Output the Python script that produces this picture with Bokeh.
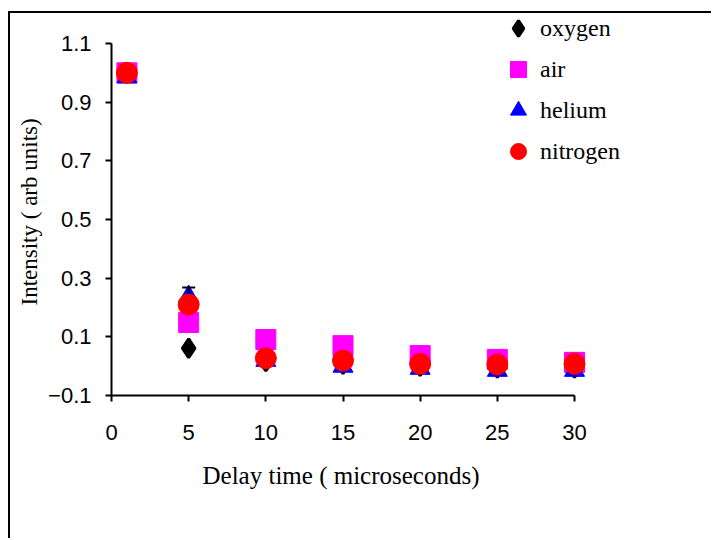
import numpy as np
import pandas as pd
from bokeh.plotting import figure
from bokeh.models import (FixedTicker, Legend, LegendItem, Range1d, ColumnDataSource,
                          Title)
from bokeh.embed import file_html
from bokeh.resources import INLINE

delay = [1, 5, 10, 15, 20, 25, 30]
oxygen = [1.0, 0.061, 0.016, 0.007, 0.0, -0.006, -0.006]
air = [1.0, 0.149, 0.091, 0.070, 0.036, 0.023, 0.013]
helium = [0.985, 0.237, 0.019, -0.001, -0.008, -0.015, -0.015]
nitrogen = [1.0, 0.21, 0.027, 0.019, 0.008, 0.006, 0.008]
helium_err = [0, 0.031, 0, 0, 0, 0, 0]
x_ticks = [0, 5, 10, 15, 20, 25, 30]
y_ticks = [-0.1, 0.1, 0.3, 0.5, 0.7, 0.9, 1.1]
series_names = ["oxygen", "air", "helium", "nitrogen"]
x_label = "Delay time ( microseconds)"
y_label = "Intensity ( arb units)"

# axes occupy 463 x 352 px; the frame is extended right/up so the legend is not clipped
AX_W, AX_H = 463, 352
FW, FH = 602, 382
x0, x1 = x_ticks[0], x_ticks[-1]
y0, y1 = y_ticks[0], y_ticks[-1]
x_end = x0 + (x1 - x0) * FW / AX_W
y_end = y0 + (y1 - y0) * FH / AX_H

p = figure(width=703, height=527, output_backend="svg", toolbar_location=None,
           x_range=Range1d(x0, x_end), y_range=Range1d(y0, y_end),
           min_border_left=101, min_border_right=0, min_border_top=0,
           min_border_bottom=145,
           styles={"border-left": "2px solid black", "border-top": "2px solid black",
                   "margin-left": "8px", "margin-top": "11px"})
p.outline_line_color = None
p.grid.visible = False

for ax, ticks in ((p.xaxis[0], x_ticks), (p.yaxis[0], y_ticks)):
    ax.ticker = FixedTicker(ticks=ticks)
    ax.bounds = (ticks[0], ticks[-1])
    ax.minor_tick_line_color = None
    ax.major_tick_in = 0
    ax.major_tick_out = 6
    ax.axis_line_width = 2
    ax.major_tick_line_width = 2
    ax.axis_line_color = "black"
    ax.major_tick_line_color = "black"
    ax.major_label_text_font = "Liberation Sans"
    ax.major_label_text_font_size = "22px"
    ax.major_label_text_color = "black"

p.xaxis.major_label_standoff = 23
p.yaxis.major_label_standoff = 14

# axis titles placed along the axes' extent (not the extended frame)
p.add_layout(Title(text=x_label, align="left", offset=91, standoff=34,
                   text_font="Liberation Serif", text_font_size="25px",
                   text_font_style="normal", text_color="black"), "below")
p.add_layout(Title(text=y_label, align="left", offset=90, standoff=8,
                   text_font="Liberation Serif", text_font_size="23px",
                   text_font_style="normal", text_color="black"), "left")

src = ColumnDataSource(dict(x=delay, oxygen=oxygen, air=air, helium=helium, nitrogen=nitrogen))

r_oxy = p.scatter("x", "oxygen", source=src, marker="diamond", size=19,
                  fill_color="black", line_color="black", line_width=3)
r_air = p.scatter("x", "air", source=src, marker="square", size=20,
                  fill_color="#FF00FF", line_color="#FF00FF")
r_he = p.scatter("x", "helium", source=src, marker="triangle", size=20,
                 fill_color="#0000FF", line_color="#0000FF")

df = pd.DataFrame(dict(x=delay, y=helium, e=helium_err))
df = df[df.e > 0]
df["lo"] = df.y - df.e
df["hi"] = df.y + df.e
esrc = ColumnDataSource(df)
p.segment(x0="x", y0="lo", x1="x", y1="hi", source=esrc, line_color="black", line_width=2)
p.scatter("x", "hi", source=esrc, marker="dash", size=13, line_color="black", line_width=2)
p.scatter("x", "lo", source=esrc, marker="dash", size=13, line_color="black", line_width=2)

r_n = p.scatter("x", "nitrogen", source=src, marker="circle", size=21,
                fill_color="#FF0000", line_color="#FF0000")

legend = Legend(items=[LegendItem(label=n, renderers=[r]) for n, r in
                       zip(series_names, [r_oxy, r_air, r_he, r_n])],
                location=(387, 224), orientation="vertical")
legend.glyph_width = 40
legend.glyph_height = 40
legend.label_standoff = 2
legend.spacing = 1
legend.padding = 0
legend.margin = 0
legend.border_line_color = None
legend.background_fill_color = None
legend.background_fill_alpha = 0
legend.label_text_font = "Liberation Serif"
legend.label_text_font_size = "24px"
legend.label_text_color = "black"
p.add_layout(legend, "center")

open("out.html", "w").write(file_html(p, INLINE))
